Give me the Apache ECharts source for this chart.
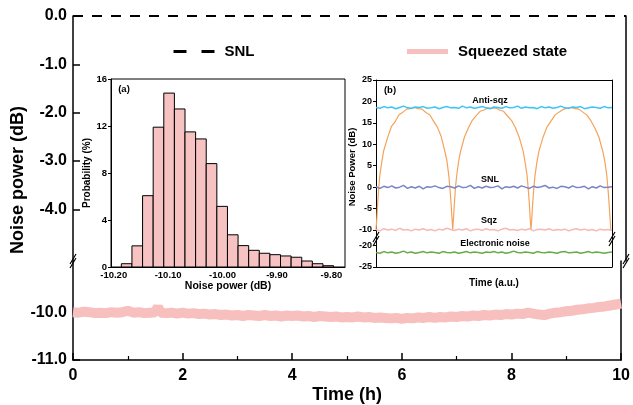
<!DOCTYPE html>
<html>
<head>
<meta charset="utf-8">
<script src="https://cdn.jsdelivr.net/npm/echarts@6/dist/echarts.min.js"></script>
<style>html,body{margin:0;padding:0;background:#fff}#chart{width:633px;height:405px}</style>
</head>
<body>
<div id="chart"></div>
<script>
// main panel: noise power over 10 hours, [time (h), dB]
const snlLevel = [[0, 0], [10, 0]];
const squeezed = [
  [0.0,-10.00],[0.1,-10.01],[0.2,-9.99],[0.3,-10.00],[0.4,-10.02],[0.5,-10.01],[0.6,-10.02],[0.7,-10.00],[0.8,-10.01],[0.9,-10.00],
  [1.0,-9.97],[1.1,-10.01],[1.2,-10.00],[1.3,-10.02],[1.4,-10.01],[1.5,-10.00],[1.55,-9.89],[1.6,-10.01],[1.7,-10.02],[1.8,-10.01],[1.9,-10.03],
  [2.0,-10.01],[2.1,-10.03],[2.2,-10.02],[2.3,-10.04],[2.4,-10.03],[2.5,-10.05],[2.6,-10.04],[2.7,-10.06],[2.8,-10.05],[2.9,-10.07],
  [3.0,-10.06],[3.1,-10.08],[3.2,-10.06],[3.3,-10.07],[3.4,-10.08],[3.5,-10.06],[3.6,-10.08],[3.7,-10.07],[3.8,-10.09],[3.9,-10.07],
  [4.0,-10.08],[4.1,-10.07],[4.2,-10.09],[4.3,-10.08],[4.4,-10.10],[4.5,-10.08],[4.6,-10.09],[4.7,-10.10],[4.8,-10.09],[4.9,-10.11],
  [5.0,-10.10],[5.1,-10.11],[5.2,-10.09],[5.3,-10.11],[5.4,-10.10],[5.5,-10.12],[5.6,-10.11],[5.7,-10.12],[5.8,-10.13],[5.9,-10.12],
  [6.0,-10.14],[6.1,-10.12],[6.2,-10.13],[6.3,-10.11],[6.4,-10.12],[6.5,-10.10],[6.6,-10.12],[6.7,-10.10],[6.8,-10.11],[6.9,-10.09],
  [7.0,-10.10],[7.1,-10.08],[7.2,-10.09],[7.3,-10.07],[7.4,-10.08],[7.5,-10.06],[7.6,-10.07],[7.7,-10.05],[7.8,-10.06],[7.9,-10.04],
  [8.0,-10.05],[8.1,-10.03],[8.2,-10.04],[8.3,-10.01],[8.4,-10.03],[8.5,-10.05],[8.6,-10.06],[8.7,-10.03],[8.8,-10.01],[8.9,-10.00],
  [9.0,-9.98],[9.1,-9.97],[9.2,-9.95],[9.3,-9.94],[9.4,-9.92],[9.5,-9.91],[9.6,-9.89],[9.7,-9.88],[9.8,-9.86],[9.9,-9.84],[10.0,-9.82]
];
const mainUpperTicks = [0, -1, -2, -3, -4];
const mainLowerTicks = [-10, -11];

// inset (a): histogram of squeezed noise power
const binEdges = [-10.186,-10.1665,-10.147,-10.1275,-10.108,-10.0885,-10.069,-10.0495,-10.030,-10.0105,
  -9.991,-9.9715,-9.952,-9.9325,-9.913,-9.8935,-9.874,-9.8545,-9.835,-9.8155,-9.796];
const probability = [0.28,1.8,6.07,11.9,14.8,13.45,11.5,10.9,8.8,5.16,2.74,1.82,1.42,1.17,1.05,0.94,0.83,0.51,0.28,0.11];
const histTicks = [-10.2, -10.1, -10.0, -9.9, -9.8];

// inset (b): traces against time index 0..60
const antiSqz = [18.6,18.4,18.8,18.5,18.7,18.3,18.6,18.9,18.5,18.4,18.7,18.6,18.8,18.4,18.5,18.7,18.3,18.6,18.8,18.5,
  18.6,18.4,18.9,18.5,18.7,18.4,18.6,18.8,18.5,18.3,18.7,18.6,18.4,18.8,18.5,18.6,18.9,18.4,18.7,18.5,
  18.6,18.3,18.8,18.5,18.7,18.4,18.6,18.9,18.5,18.4,18.7,18.6,18.8,18.3,18.5,18.7,18.6,18.4,18.8,18.5,18.6];
const snlTrace = [0.1,-0.3,0.2,-0.1,0.3,-0.2,0.0,0.4,-0.3,0.1,-0.2,0.2,-0.4,0.1,0.0,0.3,-0.1,-0.3,0.2,0.1,
  -0.2,0.3,-0.1,0.0,0.4,-0.3,0.1,-0.2,0.2,-0.1,0.0,0.3,-0.4,0.1,-0.1,0.2,-0.2,0.3,0.0,-0.3,
  0.2,-0.1,0.1,0.4,-0.2,0.0,-0.3,0.2,0.1,-0.2,0.3,-0.1,0.0,0.2,-0.4,0.1,-0.2,0.3,-0.1,0.0,0.1];
const sqzTrace = [-9.9,-10.2,-9.7,-10.0,-9.8,-10.1,-9.6,-10.0,-9.9,-10.2,-9.8,-10.0,-9.7,-10.1,-9.9,-10.2,-9.8,-10.0,-9.6,-9.9,
  -10.1,-9.8,-10.0,-9.7,-10.2,-9.9,-9.8,-10.1,-9.7,-10.0,-9.9,-10.2,-9.8,-9.6,-10.0,-9.9,-10.1,-9.8,-10.0,-9.7,
  -10.2,-9.9,-9.8,-10.0,-9.7,-10.1,-9.9,-10.0,-9.8,-10.2,-9.9,-9.7,-10.0,-9.8,-10.1,-9.9,-10.2,-9.8,-10.0,-9.9,-10.1];
const elecNoise = [-21.6,-21.8,-21.4,-21.7,-21.5,-21.8,-21.6,-21.3,-21.7,-21.5,-21.8,-21.6,-21.4,-21.7,-21.5,-21.6,-21.8,-21.4,-21.6,-21.7,
  -21.5,-21.8,-21.6,-21.4,-21.7,-21.5,-21.6,-21.8,-21.5,-21.6,-21.4,-21.7,-21.5,-21.8,-21.6,-21.3,-21.6,-21.7,-21.5,-21.6,
  -21.8,-21.4,-21.6,-21.7,-21.5,-21.6,-21.8,-21.5,-21.4,-21.7,-21.6,-21.5,-21.8,-21.6,-21.4,-21.7,-21.5,-21.6,-21.8,-21.6,-21.5];
// phase scan (orange), three arches
const scanX = [0,0.2,0.4,0.68,0.98,1.46,1.95,2.93,3.9,4.88,5.85,6.83,7.8,8.78,9.75,10.73,11.7,12.68,13.65,14.63,15.6,16.58,17.55,18.04,18.53,18.82,19.11,19.31,19.5,
  19.7,19.9,20.2,20.5,21.0,21.49,22.49,23.48,24.48,25.47,26.47,27.46,28.46,29.45,30.45,31.44,32.44,33.43,34.43,35.42,36.42,37.41,37.91,38.41,38.7,39.0,39.2,39.4,
  39.6,39.81,40.11,40.42,40.92,41.43,42.45,43.46,44.48,45.49,46.51,47.52,48.54,49.55,50.57,51.58,52.6,53.61,54.63,55.64,56.66,57.67,58.18,58.69,58.99,59.29,59.5,59.7];
const scanY = [-10,-7.4,-4.1,-0.3,2.8,5.8,8.5,11.5,14.1,15.3,16.9,17.5,18.2,18.3,18.6,18.3,18.2,17.4,16.9,15.4,14.0,11.8,8.2,6.1,2.5,-0.6,-4.2,-7.1,-10,
  -7.2,-4.3,-0.1,2.6,6.0,8.3,11.7,13.8,15.6,16.7,17.7,18.0,18.5,18.4,18.5,18.0,17.7,16.6,15.6,13.9,11.6,8.4,5.8,2.7,-0.4,-4.0,-7.3,-10,
  -7.5,-4.0,-0.4,2.7,5.9,8.4,11.6,14.0,15.4,16.8,17.5,18.1,18.4,18.6,18.3,18.2,17.5,16.8,15.5,13.8,11.7,8.3,6.0,2.6,-0.5,-4.3,-7.2,-10];
const insetUpperTicks = [25, 20, 15, 10, 5, 0, -5, -10];
const insetLowerTicks = [-20, -25];

const FONT = '"Liberation Sans", Arial, sans-serif';
const bold = (size) => ({ fontFamily: FONT, fontWeight: 'bold', fontSize: size, color: '#000' });

function frameAxis(gridIndex, position, width) {
  return {
    gridIndex, position, type: 'value',
    axisLine: { show: true, onZero: false, lineStyle: { color: '#000', width } },
    axisTick: { show: false }, axisLabel: { show: false }, splitLine: { show: false }
  };
}

function breakMark(x, y) {
  const st = { stroke: '#000', lineWidth: 1.2 };
  return [
    { type: 'line', z: 100, shape: { x1: x - 3, y1: y + 3, x2: x + 3, y2: y - 7 }, style: st },
    { type: 'line', z: 100, shape: { x1: x - 3, y1: y + 7, x2: x + 3, y2: y - 3 }, style: st }
  ];
}

const chart = echarts.init(document.getElementById('chart'));

const option = {
  animation: false,
  backgroundColor: '#fff',
  grid: [
    { left: 73, right: 7, top: 16, height: 245 },
    { left: 73, right: 7, top: 261, height: 100 },
    { left: 111, top: 79, width: 234, height: 188, show: true, borderColor: '#000', borderWidth: 1, backgroundColor: 'transparent' },
    { left: 376, right: 21, top: 80, height: 159 },
    { left: 376, right: 21, top: 239, height: 28 }
  ],
  legend: {
    left: 167, top: 39, itemWidth: 41, itemHeight: 14, itemGap: 150,
    itemStyle: { opacity: 0 },
    textStyle: Object.assign(bold(15), { padding: [0, 0, 0, 5] }),
    data: [
      { name: 'SNL', lineStyle: { type: [13, 15], width: 3 } },
      { name: 'Squeezed state', lineStyle: { width: 5 } }
    ]
  },
  xAxis: [
    { gridIndex: 0, type: 'value', min: 0, max: 10, show: false },
    {
      gridIndex: 1, type: 'value', min: 0, max: 10, interval: 2,
      axisLine: { onZero: false, lineStyle: { color: '#000', width: 1.5 } },
      axisTick: { inside: true, length: 7, lineStyle: { width: 1.5 } },
      minorTick: { show: true, splitNumber: 2, length: 4, lineStyle: { color: '#000', width: 1.2 } },
      axisLabel: Object.assign(bold(16), { margin: 8 }),
      splitLine: { show: false },
      name: 'Time (h)', nameLocation: 'middle', nameGap: 26, nameTextStyle: bold(18)
    },
    {
      gridIndex: 2, type: 'value', min: -10.205, max: -9.775,
      axisLine: { onZero: false, lineStyle: { color: '#000', width: 1 } },
      axisTick: { show: false },
      axisLabel: Object.assign(bold(9.5), { customValues: histTicks, margin: 3, formatter: (v) => v.toFixed(2) }),
      splitLine: { show: false },
      name: 'Noise power (dB)', nameLocation: 'middle', nameGap: 13, nameTextStyle: bold(10.5)
    },
    Object.assign(frameAxis(3, 'top', 1), { min: 0, max: 60 }),
    Object.assign(frameAxis(4, 'bottom', 1), {
      min: 0, max: 60,
      name: 'Time (a.u.)', nameLocation: 'middle', nameGap: 11, nameTextStyle: bold(10)
    })
  ],
  yAxis: [
    {
      gridIndex: 0, type: 'value', min: -5.07, max: 0,
      axisLine: { show: true, onZero: false, lineStyle: { color: '#000', width: 1.5 } },
      axisTick: { show: true, inside: true, length: 7, customValues: mainUpperTicks, lineStyle: { width: 1.5 } },
      axisLabel: Object.assign(bold(16), { customValues: mainUpperTicks, margin: 6, formatter: (v) => v.toFixed(1) }),
      splitLine: { show: false }
    },
    frameAxis(0, 'right', 1.5),
    {
      gridIndex: 1, type: 'value', min: -11, max: -8.93,
      axisLine: { show: true, onZero: false, lineStyle: { color: '#000', width: 1.5 } },
      axisTick: { show: true, inside: true, length: 7, customValues: mainLowerTicks, lineStyle: { width: 1.5 } },
      axisLabel: Object.assign(bold(16), { customValues: mainLowerTicks, margin: 6, formatter: (v) => v.toFixed(1) }),
      splitLine: { show: false }
    },
    frameAxis(1, 'right', 1.5),
    {
      gridIndex: 2, type: 'value', min: 0, max: 16, interval: 4,
      axisLine: { show: true, onZero: false, lineStyle: { color: '#000', width: 1 } },
      axisTick: { show: true, length: 3, lineStyle: { color: '#000' } },
      axisLabel: Object.assign(bold(9.5), { margin: 4 }),
      splitLine: { show: false },
      name: 'Probability (%)', nameLocation: 'middle', nameGap: 14, nameTextStyle: bold(10)
    },
    {
      gridIndex: 3, type: 'value', min: -12.1, max: 25,
      axisLine: { show: true, onZero: false, lineStyle: { color: '#000', width: 1 } },
      axisTick: { show: true, length: 3, customValues: insetUpperTicks, lineStyle: { color: '#000' } },
      axisLabel: Object.assign(bold(9), { customValues: insetUpperTicks, margin: 4 }),
      splitLine: { show: false }
    },
    frameAxis(3, 'right', 1),
    {
      gridIndex: 4, type: 'value', min: -25, max: -18.47,
      axisLine: { show: true, onZero: false, lineStyle: { color: '#000', width: 1 } },
      axisTick: { show: true, length: 3, customValues: insetLowerTicks, lineStyle: { color: '#000' } },
      axisLabel: Object.assign(bold(9), { customValues: insetLowerTicks, margin: 4 }),
      splitLine: { show: false }
    },
    frameAxis(4, 'right', 1)
  ],
  series: [
    {
      name: 'SNL', type: 'line', xAxisIndex: 0, yAxisIndex: 0, data: snlLevel,
      symbol: 'none', clip: false, itemStyle: { color: '#000' },
      lineStyle: { color: '#000', width: 2, type: [10, 9] }
    },
    {
      name: 'Squeezed state', type: 'line', xAxisIndex: 1, yAxisIndex: 2, data: squeezed,
      symbol: 'none', itemStyle: { color: '#f8bfbf' },
      lineStyle: { color: '#f8bfbf', width: 10 }
    },
    {
      type: 'custom', xAxisIndex: 2, yAxisIndex: 4,
      data: probability.map((p, i) => [binEdges[i], binEdges[i + 1], p]),
      encode: { x: [0, 1], y: 2 },
      renderItem: (params, api) => {
        const p0 = api.coord([api.value(0), 0]);
        const p1 = api.coord([api.value(1), api.value(2)]);
        return {
          type: 'rect',
          shape: { x: p0[0], y: p1[1], width: p1[0] - p0[0], height: p0[1] - p1[1] },
          style: { fill: '#f6c2c2', stroke: '#000', lineWidth: 1 }
        };
      }
    },
    {
      type: 'line', xAxisIndex: 3, yAxisIndex: 5, symbol: 'none', z: 2,
      data: scanX.map((x, i) => [x, scanY[i]]),
      lineStyle: { color: '#f5a35a', width: 1.2 }
    },
    {
      type: 'line', xAxisIndex: 3, yAxisIndex: 5, symbol: 'none', z: 3,
      data: antiSqz.map((v, i) => [i, v]), lineStyle: { color: '#3ec6f2', width: 1.5 }
    },
    {
      type: 'line', xAxisIndex: 3, yAxisIndex: 5, symbol: 'none', z: 3,
      data: snlTrace.map((v, i) => [i, v]), lineStyle: { color: '#7c84c6', width: 1.5 }
    },
    {
      type: 'line', xAxisIndex: 3, yAxisIndex: 5, symbol: 'none', z: 3,
      data: sqzTrace.map((v, i) => [i, v]), lineStyle: { color: '#f7b8b8', width: 1.5 }
    },
    {
      type: 'line', xAxisIndex: 4, yAxisIndex: 7, symbol: 'none', z: 3,
      data: elecNoise.map((v, i) => [i, v]), lineStyle: { color: '#6aab45', width: 1.5 }
    }
  ],
  graphic: [
    { type: 'text', x: 18, y: 180, rotation: Math.PI / 2,
      style: { text: 'Noise power (dB)', font: 'bold 18px ' + FONT, fill: '#000', textAlign: 'center', textVerticalAlign: 'middle' } },
    { type: 'text', x: 352, y: 167, rotation: Math.PI / 2,
      style: { text: 'Noise Power (dB)', font: 'bold 9.5px ' + FONT, fill: '#000', textAlign: 'center', textVerticalAlign: 'middle' } },
    { type: 'text', x: 124, y: 89, style: { text: '(a)', font: 'bold 9.5px ' + FONT, fill: '#000', textAlign: 'center', textVerticalAlign: 'middle' } },
    { type: 'text', x: 390, y: 90, style: { text: '(b)', font: 'bold 9.5px ' + FONT, fill: '#000', textAlign: 'center', textVerticalAlign: 'middle' } },
    { type: 'text', x: 490, y: 101, z: 10, style: { text: 'Anti-sqz', font: 'bold 9px ' + FONT, fill: '#000', textAlign: 'center', textVerticalAlign: 'middle' } },
    { type: 'text', x: 490, y: 180, z: 10, style: { text: 'SNL', font: 'bold 9px ' + FONT, fill: '#000', textAlign: 'center', textVerticalAlign: 'middle' } },
    { type: 'text', x: 489, y: 221, z: 10, style: { text: 'Sqz', font: 'bold 9px ' + FONT, fill: '#000', textAlign: 'center', textVerticalAlign: 'middle' } },
    { type: 'text', x: 495, y: 244, z: 10, style: { text: 'Electronic noise', font: 'bold 9px ' + FONT, fill: '#000', textAlign: 'center', textVerticalAlign: 'middle' } }
  ].concat(breakMark(73, 261), breakMark(626, 261), breakMark(376, 239), breakMark(612, 239))
};

chart.setOption(option);
</script>
</body>
</html>
